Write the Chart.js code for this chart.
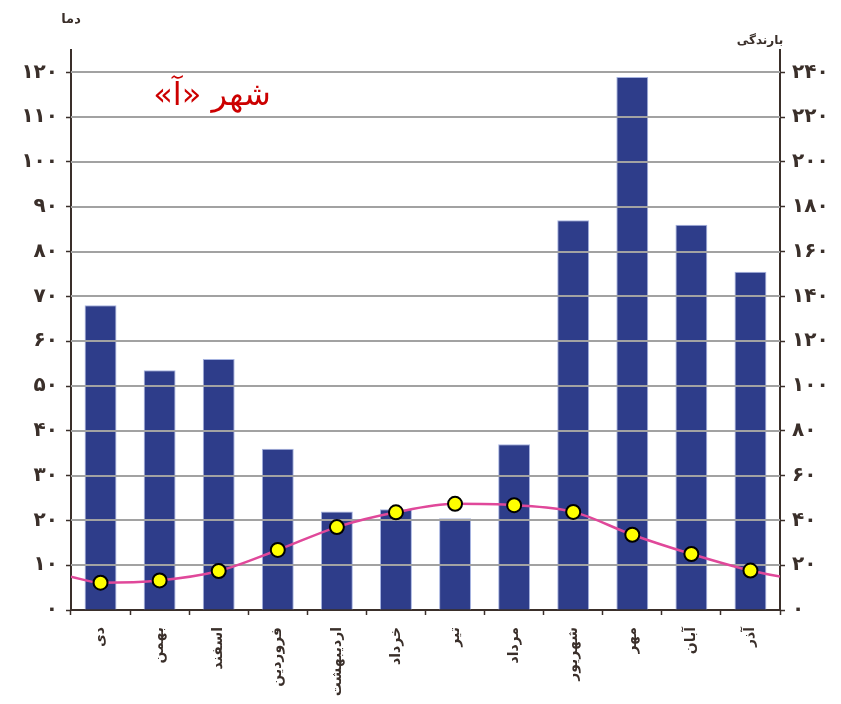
<!DOCTYPE html>
<html>
<head>
<meta charset="utf-8">
<script src="https://cdn.jsdelivr.net/npm/chart.js@4/dist/chart.umd.min.js"></script>
<style>
  html, body { margin: 0; padding: 0; background: #ffffff; }
  #wrap { position: relative; width: 841px; height: 704px; }
</style>
</head>
<body>
<div id="wrap"><canvas id="c" width="841" height="704"></canvas></div>
<script>
// ---- data ----
const months = ['دی','بهمن','اسفند','فروردین','اردیبهشت','خرداد','تیر','مرداد','شهریور','مهر','آبان','آذر'];
const precipitation = [136, 107, 112, 72, 44, 45, 41, 74, 174, 238, 172, 151];   // بارندگی (right axis)
const temperature = [6.1, 6.6, 8.7, 13.4, 18.5, 21.8, 23.7, 23.4, 21.9, 16.8, 12.5, 8.8]; // دما (left axis)
const curveStart = 7.45;   // temperature curve at left edge of the plot
const curveEnd = 7.45;     // temperature curve at right edge of the plot
const leftTickLabels = ['۰','۱۰','۲۰','۳۰','۴۰','۵۰','۶۰','۷۰','۸۰','۹۰','۱۰۰','۱۱۰','۱۲۰'];
const rightTickLabels = ['۰','۲۰','۴۰','۶۰','۸۰','۱۰۰','۱۲۰','۱۴۰','۱۶۰','۱۸۰','۲۰۰','۲۲۰','۲۴۰'];
const chartTitle = 'شهر «آ»';
const leftAxisTitle = 'دما';
const rightAxisTitle = 'بارندگی';

// ---- build ----
const linePoints = [{x: -0.5, y: curveStart}]
  .concat(temperature.map((v, i) => ({x: i, y: v})))
  .concat([{x: months.length - 0.5, y: curveEnd}]);
const pointRadii = linePoints.map((p, i) => (i === 0 || i === linePoints.length - 1) ? 0 : 7);

const axisColor = '#3a2f2a';
const fontFam = '"DejaVu Sans", sans-serif';

const gridOverBars = {
  id: 'gridOverBars',
  afterDatasetDraw(chart, args) {
    if (args.index !== 0) return;
    const ctx = chart.ctx, y = chart.scales.y, a = chart.chartArea;
    ctx.save();
    ctx.strokeStyle = '#a2a2a2';
    ctx.lineWidth = 2;
    y.ticks.forEach(t => {
      if (t.value > 0 && t.value % 10 === 0) {
        const py = Math.round(y.getPixelForValue(t.value));
        ctx.beginPath();
        ctx.moveTo(a.left, py);
        ctx.lineTo(a.right, py);
        ctx.stroke();
      }
    });
    ctx.restore();
  }
};

const texts = {
  id: 'texts',
  afterDraw(chart) {
    const ctx = chart.ctx, a = chart.chartArea;
    ctx.save();
    ctx.fillStyle = '#cc0000';
    ctx.font = '32px ' + fontFam;
    ctx.textAlign = 'center';
    ctx.textBaseline = 'middle';
    ctx.direction = 'rtl';
    ctx.fillText(chartTitle, a.left + 141, a.top + 47);
    ctx.fillStyle = axisColor;
    ctx.font = 'bold 13px ' + fontFam;
    ctx.fillText(leftAxisTitle, a.left, a.top - 30);
    ctx.font = 'bold 12px ' + fontFam;
    ctx.fillText(rightAxisTitle, a.right - 20, a.top - 9);
    ctx.restore();
  }
};

new Chart(document.getElementById('c'), {
  type: 'bar',
  data: {
    labels: months,
    datasets: [
      {
        type: 'bar',
        data: precipitation,
        xAxisID: 'x',
        yAxisID: 'y1',
        grouped: false,
        backgroundColor: '#2e3d8a',
        borderColor: '#a6b3e0',
        borderWidth: 1,
        barPercentage: 0.54,
        categoryPercentage: 1,
        order: 2
      },
      {
        type: 'line',
        data: linePoints,
        xAxisID: 'xl',
        yAxisID: 'y',
        borderColor: '#e0489a',
        borderWidth: 2.5,
        tension: 0.4,
        cubicInterpolationMode: 'monotone',
        pointRadius: pointRadii,
        pointBackgroundColor: '#ffff00',
        pointBorderColor: '#000000',
        pointBorderWidth: 2,
        fill: false,
        order: 1
      }
    ]
  },
  options: {
    responsive: false,
    animation: false,
    devicePixelRatio: 1,
    layout: { padding: { top: 50, left: 0, right: 0, bottom: 0 } },
    plugins: { legend: { display: false }, tooltip: { enabled: false }, title: { display: false } },
    scales: {
      x: {
        type: 'category',
        offset: true,
        grid: { display: true, drawOnChartArea: false, offset: true, tickLength: 5, tickColor: axisColor, tickWidth: 1.5 },
        border: { display: true, color: axisColor, width: 2 },
        ticks: {
          autoSkip: false, minRotation: 90, maxRotation: 90, padding: 12,
          color: axisColor, font: { family: fontFam, size: 14, weight: 'bold' }
        },
        afterFit(s) { s.height = 94; }
      },
      xl: { type: 'linear', display: false, offset: false, grid: { offset: false }, min: -0.5, max: months.length - 0.5 },
      y: {
        position: 'left',
        min: 0, max: 125,
        grid: { display: true, drawOnChartArea: false, tickLength: 5, tickColor: axisColor, tickWidth: 1.5 },
        border: { display: true, color: axisColor, width: 2 },
        ticks: {
          stepSize: 5, padding: 8, color: axisColor,
          font: { family: fontFam, size: 20, weight: 'bold' },
          callback: v => (v % 10 === 0 ? leftTickLabels[v / 10] : '')
        },
        afterFit(s) { s.width = 71; }
      },
      y1: {
        position: 'right',
        min: 0, max: 250,
        grid: { display: true, drawOnChartArea: false, tickLength: 5, tickColor: axisColor, tickWidth: 1.5 },
        border: { display: true, color: axisColor, width: 2 },
        ticks: {
          stepSize: 10, padding: 7, color: axisColor,
          font: { family: fontFam, size: 20, weight: 'bold' },
          callback: v => (v % 20 === 0 ? rightTickLabels[v / 20] : '')
        },
        afterFit(s) { s.width = 61; }
      }
    }
  },
  plugins: [gridOverBars, texts]
});
</script>
</body>
</html>
